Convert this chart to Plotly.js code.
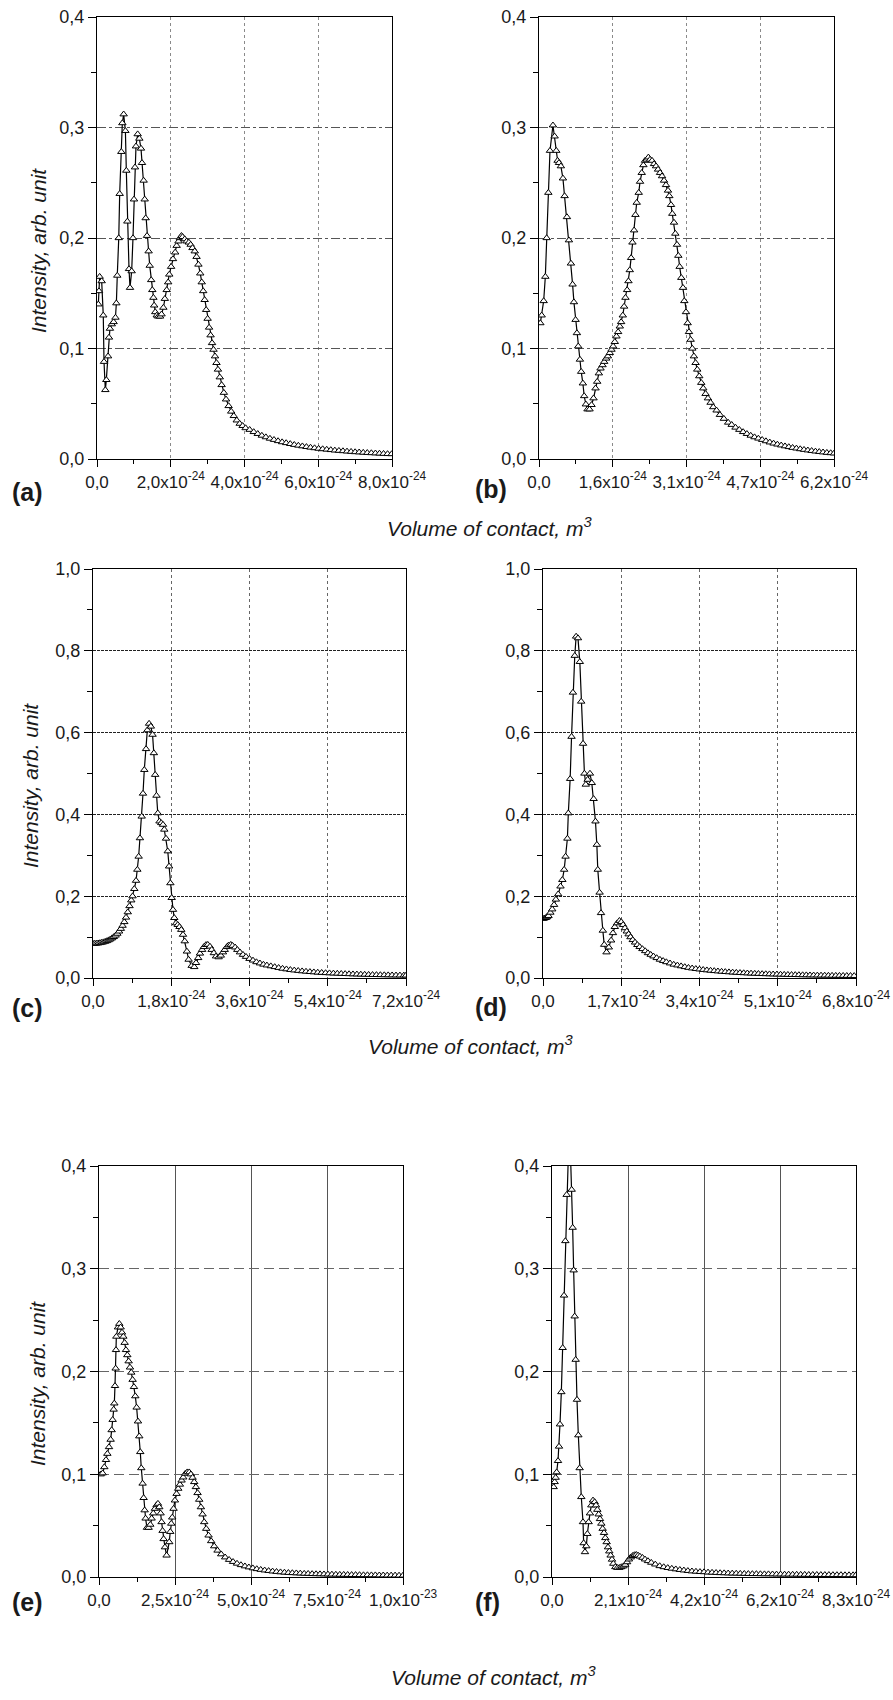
<!DOCTYPE html>
<html><head><meta charset="utf-8">
<script src="https://cdn.plot.ly/plotly-3.0.1.min.js"></script>
<style>html,body{margin:0;padding:0;background:#fff}</style>
</head><body><div id="chart" style="width:893px;height:1700px"></div>
<script>
// Volume of contact in units of 1e-24 m^3 ; intensity in arb. units
const xA = [0.036,0.054,0.072,0.127,0.17,0.19,0.226,0.253,0.30,0.325,0.35,0.40,0.45,0.50,0.525,0.55,0.59,0.615,0.66,0.687,0.723,0.77,0.795,0.823,0.868,0.895,0.94,0.976,1.003,1.03,1.057,1.103,1.148,1.193,1.22,1.265,1.293,1.32,1.356,1.40,1.43,1.47,1.50,1.53,1.55,1.58,1.62,1.66,1.71,1.75,1.80,1.84,1.89,1.93,1.96,2.01,2.06,2.12,2.16,2.21,2.25,2.29,2.32,2.38,2.43,2.49,2.54,2.59,2.65,2.70,2.75,2.80,2.84,2.88,2.92,2.96,3.00,3.04,3.08,3.12,3.16,3.20,3.24,3.28,3.33,3.38,3.44,3.50,3.57,3.64,3.71,3.79,3.87,3.95,4.03,4.14,4.25,4.36,4.47,4.58,4.69,4.80,4.91,5.02,5.13,5.24,5.35,5.46,5.57,5.68,5.79,5.90,6.01,6.12,6.23,6.34,6.45,6.56,6.67,6.78,6.89,7.00,7.11,7.22,7.33,7.44,7.55,7.66,7.77,7.88,7.99];
const yA = [0.140,0.152,0.165,0.161,0.130,0.088,0.0625,0.0716,0.093,0.110,0.118,0.122,0.124,0.128,0.141,0.166,0.200,0.240,0.278,0.304,0.312,0.297,0.261,0.215,0.172,0.155,0.170,0.200,0.235,0.264,0.283,0.294,0.290,0.281,0.268,0.252,0.235,0.218,0.202,0.188,0.175,0.162,0.153,0.146,0.139,0.133,0.130,0.129,0.129,0.131,0.137,0.145,0.153,0.160,0.167,0.174,0.181,0.187,0.193,0.197,0.200,0.202,0.201,0.199,0.197,0.196,0.194,0.191,0.188,0.183,0.176,0.168,0.160,0.152,0.144,0.135,0.127,0.119,0.112,0.105,0.099,0.093,0.087,0.081,0.074,0.067,0.060,0.054,0.048,0.043,0.039,0.035,0.032,0.030,0.028,0.0265,0.0245,0.0228,0.0212,0.0198,0.0185,0.0174,0.0163,0.0153,0.0145,0.0137,0.0129,0.0122,0.0116,0.0110,0.0104,0.0099,0.0094,0.0090,0.0086,0.0082,0.0078,0.0075,0.0072,0.0069,0.0066,0.0063,0.0061,0.0058,0.0056,0.0054,0.0052,0.0050,0.0048,0.0046,0.0045];

const xB = [0.028,0.056,0.098,0.133,0.161,0.196,0.231,0.293,0.328,0.363,0.391,0.42,0.46,0.503,0.538,0.587,0.629,0.671,0.706,0.734,0.769,0.797,0.825,0.860,0.887,0.922,0.950,0.985,1.020,1.062,1.104,1.146,1.188,1.223,1.258,1.293,1.335,1.370,1.412,1.447,1.488,1.523,1.558,1.593,1.628,1.663,1.698,1.726,1.761,1.789,1.817,1.852,1.880,1.908,1.936,1.964,1.999,2.027,2.054,2.096,2.124,2.159,2.194,2.229,2.264,2.299,2.334,2.376,2.418,2.460,2.502,2.544,2.586,2.628,2.669,2.711,2.739,2.774,2.802,2.837,2.865,2.900,2.928,2.956,2.991,3.026,3.054,3.089,3.124,3.152,3.187,3.222,3.256,3.291,3.326,3.368,3.410,3.452,3.501,3.550,3.606,3.662,3.732,3.802,3.885,3.976,4.05,4.13,4.21,4.29,4.37,4.45,4.53,4.61,4.69,4.77,4.85,4.93,5.01,5.09,5.17,5.25,5.33,5.41,5.49,5.57,5.65,5.73,5.81,5.89,5.97,6.05,6.13,6.20];
const yB = [0.123,0.130,0.143,0.165,0.200,0.241,0.279,0.302,0.292,0.279,0.270,0.268,0.265,0.254,0.238,0.219,0.198,0.177,0.158,0.142,0.126,0.114,0.102,0.090,0.079,0.0685,0.057,0.0495,0.045,0.045,0.049,0.055,0.064,0.070,0.0776,0.082,0.085,0.088,0.091,0.093,0.096,0.099,0.102,0.106,0.111,0.115,0.120,0.124,0.130,0.138,0.146,0.153,0.161,0.171,0.182,0.196,0.207,0.221,0.232,0.241,0.251,0.259,0.266,0.270,0.271,0.273,0.271,0.270,0.267,0.265,0.262,0.259,0.256,0.252,0.248,0.243,0.238,0.230,0.222,0.214,0.204,0.194,0.184,0.174,0.164,0.155,0.143,0.133,0.123,0.115,0.108,0.100,0.093,0.087,0.081,0.075,0.069,0.064,0.059,0.055,0.051,0.047,0.044,0.040,0.0365,0.033,0.031,0.0285,0.0265,0.0245,0.0228,0.0212,0.0198,0.0186,0.0174,0.0162,0.0151,0.0141,0.0132,0.0124,0.0116,0.0109,0.0102,0.0096,0.0090,0.0084,0.0079,0.0074,0.0069,0.0065,0.0061,0.0057,0.0054,0.0051];

const xC = [0.00,0.04,0.08,0.12,0.16,0.20,0.24,0.28,0.32,0.36,0.40,0.44,0.48,0.52,0.56,0.60,0.64,0.68,0.72,0.76,0.80,0.84,0.88,0.91,0.95,0.99,1.02,1.05,1.08,1.12,1.15,1.18,1.22,1.25,1.29,1.33,1.37,1.40,1.43,1.46,1.49,1.53,1.57,1.61,1.64,1.68,1.72,1.75,1.78,1.81,1.84,1.87,1.91,1.95,1.99,2.03,2.07,2.11,2.16,2.20,2.27,2.33,2.37,2.42,2.46,2.51,2.55,2.60,2.64,2.69,2.73,2.78,2.83,2.89,2.94,2.99,3.03,3.08,3.12,3.17,3.21,3.27,3.32,3.38,3.45,3.52,3.60,3.68,3.76,3.84,3.92,4.00,4.09,4.18,4.27,4.36,4.45,4.54,4.63,4.72,4.81,4.90,4.99,5.08,5.17,5.26,5.35,5.44,5.53,5.62,5.71,5.80,5.89,5.98,6.07,6.16,6.25,6.34,6.43,6.52,6.61,6.70,6.79,6.88,6.97,7.06,7.15,7.20];
const yC = [0.084,0.0842,0.0845,0.0850,0.0857,0.0866,0.0877,0.0890,0.0905,0.0925,0.0948,0.0975,0.1005,0.1040,0.1085,0.1140,0.1205,0.1280,0.1370,0.1480,0.1610,0.1760,0.190,0.200,0.218,0.238,0.265,0.297,0.342,0.395,0.451,0.509,0.560,0.606,0.622,0.615,0.595,0.550,0.497,0.446,0.403,0.383,0.379,0.375,0.363,0.341,0.310,0.273,0.232,0.196,0.167,0.147,0.134,0.130,0.125,0.118,0.106,0.090,0.065,0.045,0.030,0.027,0.037,0.049,0.060,0.069,0.076,0.081,0.0815,0.077,0.069,0.061,0.053,0.051,0.055,0.063,0.069,0.076,0.080,0.0815,0.079,0.075,0.069,0.063,0.057,0.052,0.047,0.043,0.039,0.036,0.033,0.031,0.029,0.027,0.025,0.023,0.0215,0.020,0.0188,0.0177,0.0167,0.0158,0.0150,0.0142,0.0135,0.0129,0.0123,0.0118,0.0113,0.0109,0.0105,0.0101,0.0097,0.0093,0.0090,0.0087,0.0084,0.0081,0.0078,0.0076,0.0074,0.0072,0.0070,0.0068,0.0066,0.0065,0.0064,0.0063];

const xD = [0.00,0.03,0.06,0.09,0.12,0.16,0.20,0.24,0.28,0.33,0.38,0.42,0.46,0.49,0.53,0.55,0.59,0.62,0.65,0.69,0.72,0.76,0.80,0.83,0.87,0.90,0.93,0.97,1.02,1.06,1.10,1.14,1.17,1.19,1.23,1.26,1.30,1.33,1.38,1.43,1.48,1.52,1.56,1.61,1.66,1.70,1.74,1.78,1.82,1.86,1.90,1.95,2.00,2.05,2.10,2.16,2.22,2.28,2.34,2.40,2.47,2.54,2.61,2.68,2.76,2.84,2.92,3.00,3.08,3.16,3.24,3.32,3.40,3.48,3.56,3.64,3.72,3.80,3.88,3.96,4.04,4.12,4.20,4.28,4.36,4.44,4.52,4.60,4.68,4.76,4.84,4.92,5.00,5.08,5.16,5.24,5.32,5.40,5.48,5.56,5.64,5.72,5.80,5.88,5.96,6.04,6.12,6.20,6.28,6.36,6.44,6.52,6.60,6.68,6.76];
const yD = [0.145,0.146,0.147,0.149,0.152,0.160,0.168,0.179,0.192,0.205,0.224,0.240,0.265,0.297,0.341,0.403,0.487,0.590,0.698,0.788,0.835,0.831,0.773,0.676,0.573,0.500,0.473,0.485,0.500,0.477,0.438,0.383,0.326,0.265,0.209,0.159,0.116,0.0815,0.063,0.075,0.092,0.110,0.125,0.134,0.140,0.137,0.130,0.122,0.114,0.107,0.100,0.093,0.087,0.081,0.076,0.071,0.066,0.061,0.057,0.053,0.049,0.045,0.042,0.039,0.036,0.033,0.031,0.029,0.027,0.0252,0.0237,0.0224,0.0212,0.0201,0.0191,0.0182,0.0173,0.0165,0.0157,0.0150,0.0143,0.0137,0.0131,0.0126,0.0121,0.0116,0.0112,0.0108,0.0104,0.0100,0.0097,0.0094,0.0091,0.0088,0.0085,0.0083,0.0080,0.0078,0.0076,0.0074,0.0072,0.0070,0.0068,0.0066,0.0065,0.0063,0.0062,0.0060,0.0059,0.0058,0.0057,0.0056,0.0055,0.0054,0.0053];

const xE = [0.055,0.12,0.175,0.23,0.274,0.329,0.383,0.416,0.449,0.482,0.504,0.526,0.548,0.559,0.570,0.624,0.668,0.712,0.756,0.80,0.843,0.887,0.931,0.975,1.019,1.062,1.106,1.15,1.194,1.238,1.282,1.325,1.358,1.391,1.435,1.468,1.501,1.533,1.577,1.632,1.687,1.731,1.785,1.84,1.895,1.939,1.983,2.026,2.059,2.092,2.125,2.169,2.223,2.311,2.344,2.377,2.41,2.453,2.497,2.552,2.607,2.661,2.716,2.771,2.837,2.902,2.968,3.023,3.078,3.132,3.187,3.242,3.297,3.352,3.406,3.461,3.527,3.604,3.69,3.79,3.90,4.02,4.15,4.28,4.41,4.54,4.67,4.80,4.93,5.06,5.19,5.32,5.45,5.58,5.71,5.84,5.97,6.10,6.23,6.36,6.49,6.62,6.75,6.88,7.01,7.14,7.27,7.40,7.53,7.66,7.79,7.92,8.05,8.18,8.31,8.44,8.57,8.70,8.83,8.96,9.09,9.22,9.35,9.48,9.61,9.74,9.87,10.0];
const yE = [0.100,0.101,0.107,0.114,0.120,0.1265,0.1337,0.143,0.153,0.163,0.169,0.186,0.203,0.221,0.234,0.243,0.2465,0.243,0.238,0.234,0.228,0.221,0.216,0.210,0.204,0.199,0.192,0.185,0.176,0.165,0.1515,0.137,0.1217,0.106,0.091,0.077,0.065,0.057,0.048,0.048,0.051,0.057,0.062,0.0665,0.070,0.0714,0.068,0.062,0.0535,0.045,0.037,0.029,0.021,0.034,0.044,0.052,0.058,0.0665,0.0746,0.081,0.086,0.090,0.094,0.097,0.1006,0.102,0.102,0.100,0.0967,0.0925,0.0876,0.0818,0.0753,0.068,0.061,0.0535,0.047,0.0405,0.035,0.030,0.0258,0.0222,0.0192,0.0168,0.0148,0.0131,0.0117,0.0105,0.0095,0.0086,0.0078,0.0071,0.0065,0.0060,0.0055,0.0051,0.0047,0.0044,0.0041,0.0039,0.0037,0.0035,0.0033,0.0032,0.0030,0.0029,0.0028,0.0027,0.0026,0.0025,0.0024,0.0023,0.0023,0.0022,0.0021,0.0021,0.0020,0.0019,0.0019,0.0018,0.0018,0.0017,0.0017,0.0016,0.0016,0.0016,0.0015,0.0015];

const xF = [0.045,0.073,0.10,0.127,0.164,0.191,0.218,0.255,0.291,0.328,0.364,0.40,0.446,0.51,0.537,0.564,0.591,0.619,0.646,0.682,0.719,0.755,0.80,0.846,0.864,0.90,0.937,0.965,1.0,1.037,1.074,1.119,1.165,1.201,1.238,1.274,1.31,1.347,1.383,1.42,1.456,1.492,1.529,1.565,1.601,1.638,1.674,1.729,1.783,1.838,1.893,1.95,2.00,2.05,2.10,2.15,2.20,2.25,2.30,2.35,2.40,2.47,2.54,2.62,2.71,2.82,2.94,3.05,3.16,3.27,3.38,3.49,3.60,3.71,3.82,3.93,4.04,4.15,4.26,4.37,4.48,4.59,4.70,4.81,4.92,5.03,5.14,5.25,5.36,5.47,5.58,5.69,5.80,5.91,6.02,6.13,6.24,6.35,6.46,6.57,6.68,6.79,6.90,7.01,7.12,7.23,7.34,7.45,7.56,7.67,7.78,7.89,8.00,8.11,8.22,8.30];
const yF = [0.0876,0.0925,0.0967,0.102,0.113,0.127,0.1486,0.180,0.223,0.274,0.327,0.372,0.41,0.405,0.377,0.340,0.2985,0.2537,0.2115,0.1726,0.138,0.106,0.0779,0.0535,0.033,0.0243,0.030,0.042,0.0535,0.062,0.0698,0.0746,0.073,0.0698,0.0655,0.061,0.0565,0.052,0.047,0.043,0.038,0.034,0.029,0.025,0.021,0.017,0.013,0.0097,0.009,0.009,0.0097,0.0105,0.012,0.0145,0.0172,0.0192,0.0206,0.0214,0.0217,0.021,0.020,0.0188,0.0172,0.0156,0.014,0.0123,0.0107,0.0097,0.0089,0.0082,0.0076,0.0070,0.0065,0.0060,0.0056,0.0053,0.0050,0.0048,0.0045,0.0043,0.0041,0.0039,0.0038,0.0036,0.0035,0.0034,0.0033,0.0032,0.0031,0.0030,0.0030,0.0029,0.0028,0.0028,0.0027,0.0026,0.0026,0.0025,0.0025,0.0024,0.0024,0.0023,0.0023,0.0022,0.0022,0.0022,0.0021,0.0021,0.0021,0.0020,0.0020,0.0020,0.0019,0.0019,0.0019,0.0019];

// tick positions and labels
const yTicks04 = [0,0.1,0.2,0.3,0.4];
const yLabels04 = ['0,0','0,1','0,2','0,3','0,4'];
const yMinor04 = [0.05,0.15,0.25,0.35];
const yTicks10 = [0,0.2,0.4,0.6,0.8,1.0];
const yLabels10 = ['0,0','0,2','0,4','0,6','0,8','1,0'];
const yMinor10 = [0.1,0.3,0.5,0.7,0.9];
const sup24 = 'x10<sup>-24</sup>';
const xTicksA = [0,2,4,6,8];
const xLabelsA = ['0,0','2,0'+sup24,'4,0'+sup24,'6,0'+sup24,'8,0'+sup24];
const xTicksB = [0,1.55,3.1,4.65,6.2];
const xLabelsB = ['0,0','1,6'+sup24,'3,1'+sup24,'4,7'+sup24,'6,2'+sup24];
const xTicksC = [0,1.8,3.6,5.4,7.2];
const xLabelsC = ['0,0','1,8'+sup24,'3,6'+sup24,'5,4'+sup24,'7,2'+sup24];
const xTicksD = [0,1.7,3.4,5.1,6.8];
const xLabelsD = ['0,0','1,7'+sup24,'3,4'+sup24,'5,1'+sup24,'6,8'+sup24];
const xTicksE = [0,2.5,5,7.5,10];
const xLabelsE = ['0,0','2,5'+sup24,'5,0'+sup24,'7,5'+sup24,'1,0x10<sup>-23</sup>'];
const xTicksF = [0,2.075,4.15,6.225,8.3];
const xLabelsF = ['0,0','2,1'+sup24,'4,2'+sup24,'6,2'+sup24,'8,3'+sup24];

const panelLabels = ['(a)','(b)','(c)','(d)','(e)','(f)'];
const xTitle = '<i>Volume of contact, m<sup>3</sup></i>';
const yTitle = '<i>Intensity, arb. unit</i>';

const W = 893, H = 1700;
const FONT = 'Liberation Sans, Arial, Helvetica, sans-serif';
const TXT = '#1a1a1a';
const px = v => v / W, py = v => 1 - v / H;
function mids(t){const m=[];for(let i=0;i<t.length-1;i++)m.push((t[i]+t[i+1])/2);return m;}

const gridStyles = {
  ab: {xc:'#8a8a8a', xd:'dot', yc:'#555', yd:'dashdot'},
  cd: {xc:'#666', xd:'dot', yc:'#222', yd:'3px,1px'},
  ef: {xc:'#555', xd:'solid', yc:'#666', yd:'10px,5px'}
};

const panels = [
  {x:xA,y:yA,xt:xTicksA,xl:xLabelsA,yt:yTicks04,yl:yLabels04,ym:yMinor04,box:[97,392,17,459],g:'ab'},
  {x:xB,y:yB,xt:xTicksB,xl:xLabelsB,yt:yTicks04,yl:yLabels04,ym:yMinor04,box:[539,834,17,459],g:'ab'},
  {x:xC,y:yC,xt:xTicksC,xl:xLabelsC,yt:yTicks10,yl:yLabels10,ym:yMinor10,box:[93,406,569,978],g:'cd'},
  {x:xD,y:yD,xt:xTicksD,xl:xLabelsD,yt:yTicks10,yl:yLabels10,ym:yMinor10,box:[543,856,569,978],g:'cd'},
  {x:xE,y:yE,xt:xTicksE,xl:xLabelsE,yt:yTicks04,yl:yLabels04,ym:yMinor04,box:[99,403,1166,1577],g:'ef'},
  {x:xF,y:yF,xt:xTicksF,xl:xLabelsF,yt:yTicks04,yl:yLabels04,ym:yMinor04,box:[552,856,1166,1577],g:'ef'}
];

const data = [];
const layout = {
  width: W, height: H, margin:{l:0,r:0,t:0,b:0},
  paper_bgcolor:'#fff', plot_bgcolor:'#fff', showlegend:false,
  font:{family:FONT, size:18, color:TXT},
  annotations: []
};

panels.forEach((p,i) => {
  const n = i===0 ? '' : String(i+1);
  const gs = gridStyles[p.g];
  data.push({
    type:'scatter', mode:'lines+markers', x:p.x, y:p.y,
    xaxis:'x'+n, yaxis:'y'+n,
    line:{color:'#000', width:1.2},
    marker:{symbol:'triangle-up', size:6.5, color:'#fff', line:{color:'#000', width:1}},
    hoverinfo:'skip'
  });
  const [l,r,t,b] = p.box;
  layout['xaxis'+n] = {
    domain:[px(l),px(r)], anchor:'y'+n, range:[p.xt[0], p.xt[p.xt.length-1]],
    tickmode:'array', tickvals:p.xt, ticktext:p.xl, tickangle:0,
    ticks:'outside', ticklen:7, tickwidth:1, tickcolor:'#000',
    showline:true, linecolor:'#000', linewidth:1.2, mirror:true,
    showgrid:true, gridcolor:gs.xc, griddash:gs.xd, gridwidth:1,
    zeroline:false, automargin:false, fixedrange:true,
    tickfont:{family:FONT, size:17, color:TXT},
    minor:{tickmode:'array', tickvals:mids(p.xt), ticks:'outside', ticklen:4, tickwidth:1, tickcolor:'#000', showgrid:false}
  };
  layout['yaxis'+n] = {
    domain:[py(b),py(t)], anchor:'x'+n, range:[p.yt[0], p.yt[p.yt.length-1]],
    tickmode:'array', tickvals:p.yt, ticktext:p.yl, tickangle:0,
    ticks:'outside', ticklen:8, tickwidth:1, tickcolor:'#000',
    showline:true, linecolor:'#000', linewidth:1.2, mirror:true,
    showgrid:true, gridcolor:gs.yc, griddash:gs.yd, gridwidth:1,
    zeroline:false, automargin:false, fixedrange:true,
    tickfont:{family:FONT, size:18, color:TXT},
    minor:{tickmode:'array', tickvals:p.ym, ticks:'outside', ticklen:5, tickwidth:1, tickcolor:'#000', showgrid:false}
  };
});

function ann(text, x, y, opts){
  layout.annotations.push(Object.assign({
    text, x:px(x), y:py(y), xref:'paper', yref:'paper',
    xanchor:'center', yanchor:'middle', showarrow:false,
    font:{family:FONT, size:21, color:TXT}
  }, opts||{}));
}
// panel letters
const labelPos = [[27,492],[491,489],[27,1008],[491,1007],[27,1602],[488,1602]];
labelPos.forEach((q,i) => ann('<b>'+panelLabels[i]+'</b>', q[0], q[1], {font:{family:FONT, size:25, color:TXT}}));
// x-axis titles
[[489,527],[470,1045],[493,1676]].forEach(q => ann(xTitle, q[0], q[1]));
// y-axis titles
[[38,251],[30,786],[37,1384]].forEach(q => ann(yTitle, q[0], q[1], {textangle:-90}));

Plotly.newPlot('chart', data, layout, {staticPlot:true, displayModeBar:false});
</script>
</body></html>
